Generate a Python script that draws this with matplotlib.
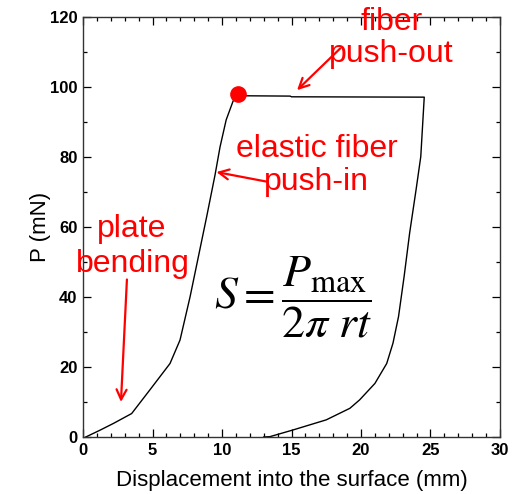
import numpy as np
import matplotlib.pyplot as plt
from matplotlib.ticker import MultipleLocator

plt.rcParams['font.family'] = ['Liberation Sans', 'DejaVu Sans']
plt.rcParams['mathtext.fontset'] = 'stix'

# loading branch (plate bending + elastic fiber push-in)
load_x = [0.2, 1.2, 2.2, 3.5, 4.8, 6.26, 6.98, 7.7, 8.3, 8.9, 9.5, 9.86, 10.3, 10.8, 11.1]
load_y = [0, 1.9, 3.9, 6.7, 13.4, 21.0, 27.7, 40, 51.5, 63, 74.9, 82.9, 90.6, 96.0, 97.4]
# push-out plateau
plat_x = [11.2, 14.9, 15.0, 24.55]
plat_y = [97.5, 97.4, 97.2, 97.1]
# unloading branch
unload_x = [24.55, 24.3, 23.96, 23.5, 23.1, 22.7, 22.3, 21.85, 21.0, 19.9, 19.2, 17.5, 15.1, 13.45, 13.0]
unload_y = [97.1, 80.1, 70.6, 58.3, 45.8, 34.4, 26.8, 21.0, 15.3, 10.6, 8.2, 4.9, 2.0, 0.1, 0]
peak = (11.17, 98.1)

fig = plt.figure(figsize=(5.26, 4.94), dpi=100)
ax = fig.add_axes([83/526, 1-437/494, 417/526, 420/494])

x = load_x + plat_x + unload_x
y = load_y + plat_y + unload_y
ax.plot(x, y, color='black', lw=1.0)
ax.plot(*peak, 'o', color='red', ms=11, zorder=5)

red = 'red'
arrow = dict(arrowstyle='->', color=red, lw=1.6, shrinkA=0, shrinkB=0, mutation_scale=18)
ax.annotate('', xy=(15.4, 99.1), xytext=(18.5, 111), arrowprops=arrow)
ax.text(22.2, 114, 'fiber\npush-out', color=red, fontsize=23,
        ha='center', va='center', linespacing=1.1, clip_on=False)
ax.annotate('', xy=(9.6, 75.7), xytext=(13.3, 72.9), arrowprops=arrow)
ax.text(16.8, 77.5, 'elastic fiber\npush-in', color=red, fontsize=23,
        ha='center', va='center', linespacing=1.15)
ax.annotate('', xy=(2.73, 10), xytext=(3.16, 45), arrowprops=arrow)
ax.text(3.5, 59.5, 'plate', color=red, fontsize=23, ha='center', va='center')
ax.text(3.6, 49.5, 'bending', color=red, fontsize=23, ha='center', va='center')

ax.text(15.1, 40, r'$S=\dfrac{P_{\rm max}}{2\pi\ rt}$', fontsize=33,
        ha='center', va='center')

ax.set_xlim(0, 30)
ax.set_ylim(0, 120)
ax.xaxis.set_major_locator(MultipleLocator(5))
ax.xaxis.set_minor_locator(MultipleLocator(1))
ax.yaxis.set_major_locator(MultipleLocator(20))
ax.yaxis.set_minor_locator(MultipleLocator(10))
ax.tick_params(which='both', direction='in', top=True, right=True, width=0.9)
ax.tick_params(which='major', length=6, labelsize=12, pad=4)
ax.tick_params(which='minor', length=3)
for lab in ax.get_xticklabels() + ax.get_yticklabels():
    lab.set_fontweight('bold')
for s in ax.spines.values():
    s.set_linewidth(1.0)
    s.set_color('#333333')

ax.set_xlabel('Displacement into the surface (mm)', fontsize=16, labelpad=9)
ax.set_ylabel('P (mN)', fontsize=16, labelpad=-1)

fig.savefig('out.png', dpi=100)
